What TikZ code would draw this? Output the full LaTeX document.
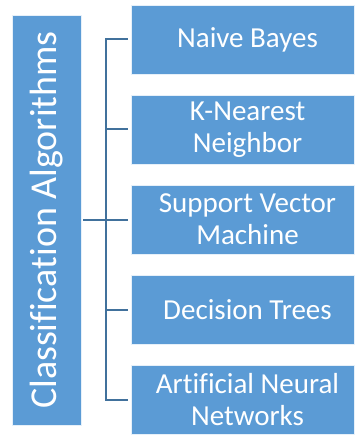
\documentclass[tikz,border=0pt]{standalone}
\usepackage{fontspec}
\setmainfont{Carlito}[Ligatures=CommonOff]
\definecolor{boxblue}{HTML}{5B9BD5}
\definecolor{linkblue}{HTML}{41719C}
\begin{document}
\begin{tikzpicture}[x=1pt,y=-1pt,
  algbox/.style={draw=white!85!boxblue, line width=0.8pt, fill=boxblue,
    minimum width=223pt, minimum height=69pt, inner sep=0pt},
  algtext/.style={text=white, inner sep=0pt, align=center,
    font=\fontsize{29}{32}\selectfont},
  rootbox/.style={draw=white!85!boxblue, line width=0.8pt, fill=boxblue,
    minimum width=69pt, minimum height=410pt, inner sep=0pt},
  link/.style={draw=linkblue, line width=2pt}]
\useasboundingbox (0,0) rectangle (357,435);
\node[rootbox] (root) at (46.5,220) {};
\node[text=white, rotate=90, font=\fontsize{38}{40}\selectfont] (roottext) at (root.center) {Classification Algorithms};
\node[algbox] (a1) at (242.5,39.5) {};
\node[algbox] (a2) at (242.5,129.5) {};
\node[algbox] (a3) at (242.5,219.5) {};
\node[algbox] (a4) at (242.5,309.5) {};
\node[algbox] (a5) at (242.5,399.5) {};
\node[algtext] (t1) at ([xshift=5pt]a1.center) {Naive Bayes};
\node[algtext] (t2) at ([xshift=5pt]a2.center) {K-Nearest\\Neighbor};
\node[algtext] (t3) at ([xshift=5pt]a3.center) {Support Vector\\Machine};
\node[algtext] (t4) at ([xshift=5pt]a4.center) {Decision Trees};
\node[algtext] (t5) at ([xshift=5pt]a5.center) {Artificial Neural\\Networks};
\coordinate (hub) at (106,220);
\draw[link] ([xshift=2pt]root.east |- hub) -- (hub);
\draw[link] ([xshift=-3pt]a1.west) -| (hub) |- ([xshift=-3pt]a5.west);
\draw[link] (hub |- a2.west) -- ([xshift=-3pt]a2.west);
\draw[link] (hub |- a3.west) -- ([xshift=-3pt]a3.west);
\draw[link] (hub |- a4.west) -- ([xshift=-3pt]a4.west);
\end{tikzpicture}
\end{document}
